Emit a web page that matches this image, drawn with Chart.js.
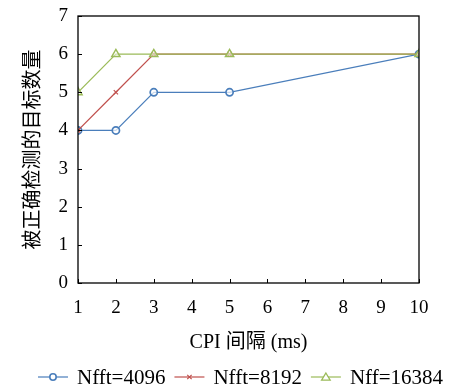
<!DOCTYPE html>
<html>
<head>
<meta charset="utf-8">
<script src="https://cdn.jsdelivr.net/npm/chart.js@4/dist/chart.umd.min.js"></script>
<style>
  html, body { margin: 0; padding: 0; background: #fff; }
  #wrap { width: 465px; height: 389px; }
</style>
</head>
<body>
<div id="wrap"><canvas id="cpiChart" width="465" height="389"></canvas></div>
<script>
// CPI interval (ms) vs number of correctly detected targets
const cpiValues = [1, 2, 3, 5, 10];
const det4096 = [4, 4, 5, 5, 6];
const det8192 = [4, 5, 6, 6, 6];
const det16384 = [5, 6, 6, 6, 6];
const seriesNames = ['Nfft=4096', 'Nfft=8192', 'Nff=16384'];
const xTicks = [1, 2, 3, 4, 5, 6, 7, 8, 9, 10];
const yTicks = [0, 1, 2, 3, 4, 5, 6, 7];

const blue = '#4a7ebb';
const red = '#c0504d';
const green = '#9bbb59';

const serif = '"Liberation Serif", "DejaVu Serif", serif';
const cjk = '"Liberation Serif", "Noto Sans CJK SC", serif';

function toPoints(vals) {
    return cpiValues.map((x, i) => ({ x: x, y: vals[i] }));
}

// marker shapes shared by the legend
function drawMarker(g, kind, x, y, color) {
    g.strokeStyle = color;
    g.fillStyle = '#fff';
    g.beginPath();
    if (kind === 'circle') {
        g.lineWidth = 1.6;
        g.arc(x, y, 3.2, 0, Math.PI * 2);
        g.fill(); g.stroke();
    } else if (kind === 'crossRot') {
        g.lineWidth = 1.2;
        g.moveTo(x - 2.2, y - 2.2); g.lineTo(x + 2.2, y + 2.2);
        g.moveTo(x + 2.2, y - 2.2); g.lineTo(x - 2.2, y + 2.2);
        g.stroke();
    } else {
        g.lineWidth = 1.3;
        g.moveTo(x, y - 4); g.lineTo(x + 4.3, y + 3.2); g.lineTo(x - 4.3, y + 3.2); g.closePath();
        g.fill(); g.stroke();
    }
}

// inward tick marks and a closed frame round the plot
const framePlugin = {
    id: 'frame',
    afterDatasetsDraw(chart) {
        const { ctx, chartArea: a, scales } = chart;
        ctx.save();
        ctx.strokeStyle = '#000';
        ctx.lineWidth = 1;
        ctx.beginPath();
        xTicks.forEach(v => {
            let px = Math.round(scales.x.getPixelForValue(v)) + 0.5;
            ctx.moveTo(px, a.bottom); ctx.lineTo(px, a.bottom - 4);
        });
        yTicks.forEach(v => {
            let py = Math.round(scales.y.getPixelForValue(v)) + 0.5;
            ctx.moveTo(a.left, py); ctx.lineTo(a.left + 4, py);
        });
        ctx.stroke();
        ctx.lineWidth = 1.3;
        ctx.strokeRect(a.left, a.top, a.right - a.left, a.bottom - a.top);
        ctx.restore();
    }
};

// one-row legend along the bottom: short line with marker, then the name
const lineLegend = {
    id: 'lineLegend',
    afterDraw(chart) {
        const ctx = chart.ctx;
        const sets = chart.data.datasets;
        const lineLen = 30, textGap = 9, itemGap = 9;
        ctx.save();
        ctx.font = '21px ' + serif;
        const widths = sets.map(ds => ctx.measureText(ds.label).width);
        let total = widths.reduce((s, w) => s + w + lineLen + textGap, 0) + itemGap * (sets.length - 1);
        let x = (chart.width - total) / 2 + 8;
        const y = 377;
        sets.forEach((ds, i) => {
            ctx.strokeStyle = ds.borderColor;
            ctx.lineWidth = 1.2;
            ctx.beginPath(); ctx.moveTo(x, y); ctx.lineTo(x + lineLen, y); ctx.stroke();
            drawMarker(ctx, ds.pointStyle, x + lineLen / 2, y, ds.borderColor);
            ctx.fillStyle = '#000';
            ctx.textBaseline = 'middle';
            ctx.fillText(ds.label, x + lineLen + textGap, y + 1);
            x += lineLen + textGap + widths[i] + itemGap;
        });
        ctx.restore();
    }
};

var ctx = document.getElementById('cpiChart');
var cpiChart = new Chart(ctx, {
    type: 'line',
    data: {
        datasets: [{
            label: seriesNames[0],
            data: toPoints(det4096),
            borderColor: blue,
            backgroundColor: 'rgba(255,255,255,0.7)',
            borderWidth: 1.2,
            pointStyle: 'circle',
            pointRadius: 3.6,
            pointBorderWidth: 1.7,
            order: 3
        }, {
            label: seriesNames[1],
            data: toPoints(det8192),
            borderColor: red,
            backgroundColor: red,
            borderWidth: 1.2,
            pointStyle: 'crossRot',
            pointRadius: 3,
            pointBorderWidth: 1.2,
            order: 2
        }, {
            label: seriesNames[2],
            data: toPoints(det16384),
            borderColor: green,
            backgroundColor: 'rgba(255,255,255,0.5)',
            borderWidth: 1.2,
            pointStyle: 'triangle',
            pointRadius: 4.8,
            pointBorderWidth: 1.4,
            order: 1
        }]
    },
    options: {
        responsive: false,
        animation: false,
        layout: { padding: { top: 16, right: 46, left: 0, bottom: 30 } },
        plugins: {
            tooltip: { enabled: false },
            legend: { display: false }
        },
        scales: {
            x: {
                type: 'linear',
                min: 1,
                max: 10,
                afterBuildTicks(scale) { scale.ticks = xTicks.map(v => ({ value: v })); },
                afterFit(scale) { scale.height = 76; },
                grid: { drawOnChartArea: false, drawTicks: false },
                border: { display: false },
                ticks: { color: '#000', padding: 14, font: { family: serif, size: 19 } },
                title: {
                    display: true,
                    text: 'CPI 间隔 (ms)',
                    color: '#000',
                    padding: { top: 4, bottom: 4 },
                    font: { family: cjk, size: 20 }
                }
            },
            y: {
                min: 0,
                max: 7,
                afterBuildTicks(scale) { scale.ticks = yTicks.map(v => ({ value: v })); },
                afterFit(scale) { scale.width = 78; },
                grid: { drawOnChartArea: false, drawTicks: false },
                border: { display: false },
                ticks: { color: '#000', padding: 10, font: { family: serif, size: 19, lineHeight: 0.6 } },
                title: {
                    display: true,
                    text: '被正确检测的目标数量',
                    color: '#000',
                    padding: { top: 19, bottom: 4 },
                    font: { family: '"Noto Sans CJK SC", sans-serif', size: 20 }
                }
            }
        }
    },
    plugins: [framePlugin, lineLegend]
});
</script>
</body>
</html>
